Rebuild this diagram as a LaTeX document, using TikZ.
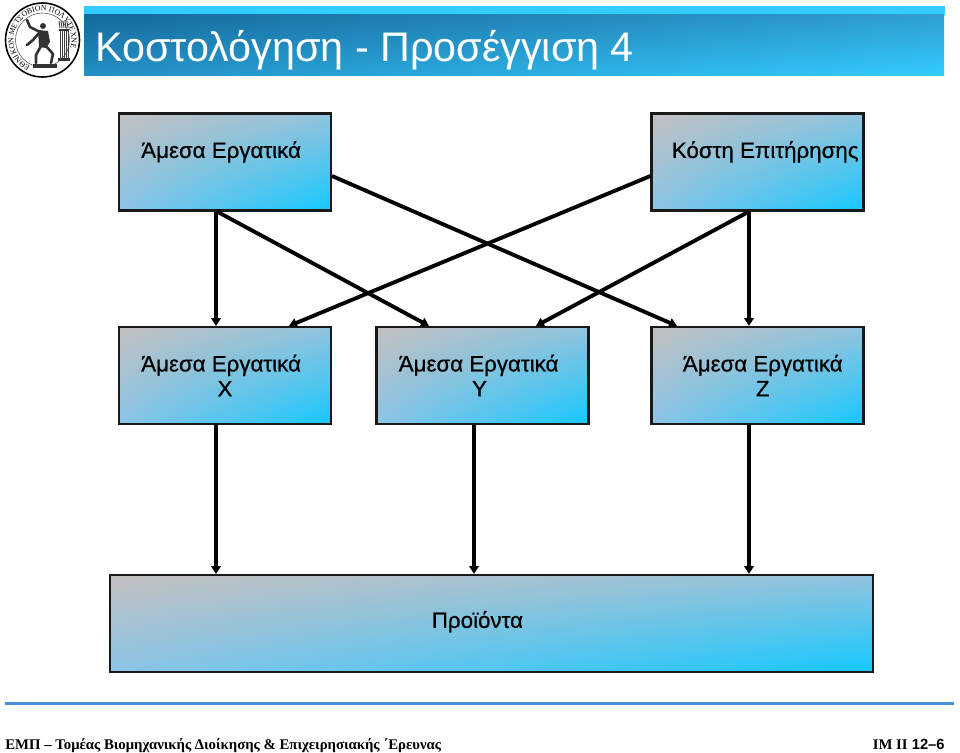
\documentclass[tikz,border=0pt]{standalone}
\usepackage{fontspec}
\setmainfont{Liberation Sans}
\newfontfamily\footfont[Ligatures=TeX]{Liberation Serif}
\newfontfamily\boxfont[FakeBold=0.6]{Liberation Sans}
\usetikzlibrary{arrows.meta}
\usetikzlibrary{decorations.text}
\usetikzlibrary{shadings}
\definecolor{boxgray}{HTML}{C2C0C0}
\definecolor{boxcyan}{HTML}{14C8FF}
\definecolor{boxmidr}{HTML}{92C3DE}
\definecolor{boxmidl}{HTML}{8CC4E6}
\definecolor{stripcyan}{HTML}{33CCFF}
\definecolor{bandtl}{HTML}{15699C}
\definecolor{bandtr}{HTML}{2F9FD0}
\definecolor{bandbl}{HTML}{2490C4}
\definecolor{rulecol}{HTML}{4A90D9}
\newcommand{\nudged}[2]{\mbox{\kern#1pt\relax #2\kern-#1pt\relax}}
\begin{document}
\begin{tikzpicture}[
  x=0.02cm, y=-0.02cm,
  costbox/.style={rectangle, draw=black!90, line width=1.2pt, inner sep=0pt,
    upper left=boxgray, upper right=boxmidr, lower left=boxmidl, lower right=boxcyan,
    minimum width=4.24cm, minimum height=1.94cm, font=\boxfont\fontsize{12.7}{14.2}\selectfont,
    text=black, align=center},
  flow/.style={line width=2.2pt, draw=black, -{Triangle[length=4.5pt, width=5.4pt]}},
  sealink/.style={line width=1.5pt, draw=black!80, line cap=round, line join=round}
]
  \useasboundingbox (0,0) rectangle (960,753);

  % Logo
  \draw[line width=0.9pt, fill=white] (42.5,40) circle (37);
  \draw[line width=0.3pt, black!70] (42.5,40) circle (27);
  \path[decorate, decoration={text along path, text align={fit to path},
    text={|\footfont\fontsize{4.4}{5}\selectfont|ΕΘΝΙΚΟΝ ΜΕΤΣΟΒΙΟΝ ΠΟΛΥΤΕΧΝΕΙΟΝ}}]
    (42.5,40) ++(115:29) arc[start angle=115, end angle=375, radius=29];
  \fill[black!80] (43,26) circle (3);
  \fill[black!80] (38,30) -- (48,31) -- (50,42) -- (46,48) -- (39,47) -- cycle;
  \draw[sealink] (38,31) -- (30,27) -- (27,20);
  \draw[sealink] (39,33) -- (33,40) -- (27,45);
  \draw[sealink] (41,46) -- (36,55) -- (36,63);
  \draw[sealink] (46,46) -- (53,54) -- (51,63);
  \fill[black!80] (33,64) rectangle (57,68);
  \fill[black!80] (59,29) rectangle (69,31);
  \foreach \cx in {60,62,...,68} {
    \draw[black!75, line width=0.5pt] (\cx,31) -- (\cx,58);
    \draw[black!75, line width=0.5pt] (\cx,28) -- (\cx-1,21);
  }
  \fill[black!80] (58,58) rectangle (70,61);

  % Titlos
  \fill[stripcyan] (84,6) rectangle (945,15);
  \shade[upper left=bandtl, upper right=bandtr, lower left=bandbl, lower right=stripcyan]
    (84,15) rectangle (944,76);
  \node[anchor=base west, text=white, inner sep=0pt, font=\fontsize{23.5}{28}\selectfont] (title) at (95,62)
    {Κοστολόγηση - Προσέγγιση 4};

  % Kouta
  \node[costbox] (direct) at (225,162) {\nudged{-2.2}{Άμεσα Εργατικά}\\ \ };
  \node[costbox] (superv) at (757.5,162) {\nudged{4.4}{Κόστη Επιτήρησης}\\ \ };
  \node[costbox] (prodx) at (225,375.5) {\nudged{-2.2}{Άμεσα Εργατικά}\\X};
  \node[costbox] (prody) at (482.5,375.5) {\nudged{-2.2}{Άμεσα Εργατικά}\\\nudged{-1.7}{Y}};
  \node[costbox] (prodz) at (757.5,375.5) {\nudged{3}{Άμεσα Εργατικά}\\\nudged{3}{Z}};
  \node[costbox, minimum width=15.26cm] (output) at (491.5,623.5)
    {\nudged{-8}{\raisebox{4.6pt}{Προϊόντα}}};

  % Velh
  \draw[flow] ([xshift=-0.18cm]direct.south) -- ([xshift=-0.18cm]prodx.north);
  \draw[flow] ([xshift=-0.16cm]direct.south) -- ([xshift=-1.07cm]prody.north);
  \draw[flow] ([yshift=-0.28cm]direct.east) -- ([xshift=-1.61cm]prodz.north);
  \draw[flow] ([yshift=-0.28cm]superv.west) -- ([xshift=1.28cm]prodx.north);
  \draw[flow] ([xshift=-0.17cm]superv.south) -- ([xshift=1.07cm]prody.north);
  \draw[flow] ([xshift=-0.17cm]superv.south) -- ([xshift=-0.17cm]prodz.north);
  \draw[flow] ([xshift=-0.18cm]prodx.south) -- ([xshift=-0.18cm]prodx.south |- output.north);
  \draw[flow] ([xshift=-0.17cm]prody.south) -- ([xshift=-0.17cm]prody.south |- output.north);
  \draw[flow] ([xshift=-0.17cm]prodz.south) -- ([xshift=-0.17cm]prodz.south |- output.north);

  % Ypomnhma
  \draw[rulecol, line width=1.2pt] (5,703.5) -- (954,703.5);
  \node[anchor=base west, inner sep=0pt, font=\footfont\bfseries\fontsize{8.4}{10}\selectfont] (footl) at (5,749)
    {ΕΜΠ – Τομέας Βιομηχανικής Διοίκησης \& Επιχειρησιακής ΄Ερευνας};
  \node[anchor=base east, inner sep=0pt, font=\bfseries\fontsize{8.4}{10}\selectfont] (footr) at (945,749)
    {{\footfont ΙΜ ΙΙ} 12–6};
\end{tikzpicture}
\end{document}
